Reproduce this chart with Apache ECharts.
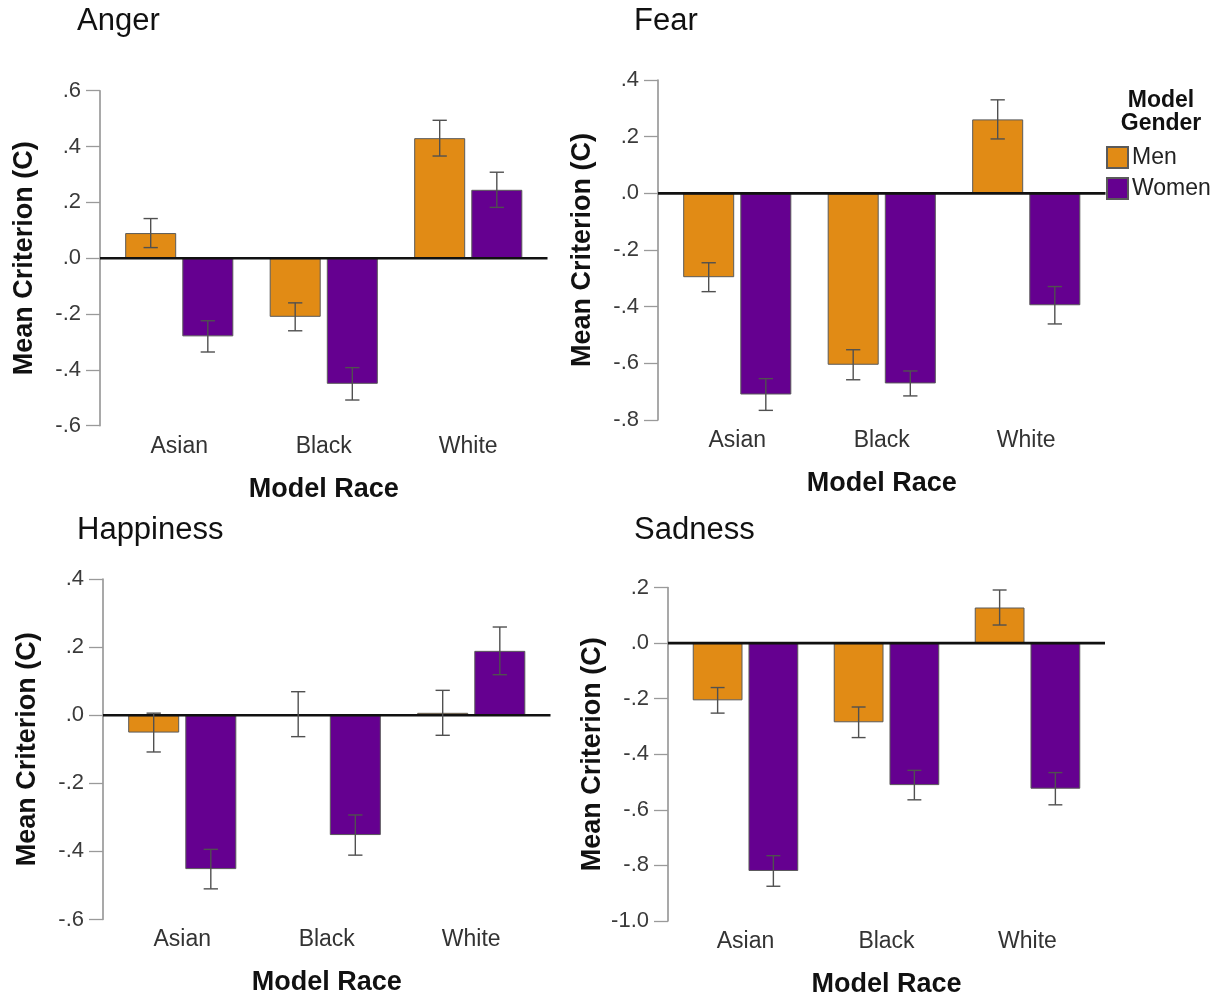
<!DOCTYPE html>
<html>
<head>
<meta charset="utf-8">
<title>Mean Criterion (C) by Model Race and Model Gender</title>
<script src="https://cdn.jsdelivr.net/npm/echarts@6/dist/echarts.min.js"></script>
<style>
  html, body { margin: 0; padding: 0; background: #ffffff; }
  #chart { width: 1223px; height: 999px; }
</style>
</head>
<body>
<div id="chart"></div>
<script>
// Categories and groups
const races = ['Asian', 'Black', 'White'];
const genders = ['Men', 'Women'];
const panelTitles = ['Anger', 'Fear', 'Happiness', 'Sadness'];

// Mean criterion (C) per race, and error-bar half-lengths
const angerMen = [0.09, -0.21, 0.43];
const angerWomen = [-0.28, -0.45, 0.245];
const angerMenErr = [0.052, 0.05, 0.064];
const angerWomenErr = [0.056, 0.058, 0.063];

const fearMen = [-0.296, -0.605, 0.261];
const fearWomen = [-0.71, -0.671, -0.395];
const fearMenErr = [0.051, 0.053, 0.069];
const fearWomenErr = [0.056, 0.044, 0.066];

const happinessMen = [-0.051, 0.003, 0.007];
const happinessWomen = [-0.452, -0.352, 0.189];
const happinessMenErr = [0.057, 0.066, 0.066];
const happinessWomenErr = [0.058, 0.059, 0.07];

const sadnessMen = [-0.206, -0.285, 0.128];
const sadnessWomen = [-0.82, -0.511, -0.524];
const sadnessMenErr = [0.046, 0.055, 0.063];
const sadnessWomenErr = [0.055, 0.053, 0.058];

// Y tick labels, bottom to top (step .2)
const angerTicks = ['-.6', '-.4', '-.2', '.0', '.2', '.4', '.6'];
const fearTicks = ['-.8', '-.6', '-.4', '-.2', '.0', '.2', '.4'];
const happinessTicks = ['-.6', '-.4', '-.2', '.0', '.2', '.4'];
const sadnessTicks = ['-1.0', '-.8', '-.6', '-.4', '-.2', '.0', '.2'];
const yMins = [-0.6, -0.8, -0.6, -1.0];
const yStep = 0.2;

// ---- styling / layout ----
const FONT = '"Liberation Sans", Arial, Helvetica, sans-serif';
const MEN_COLOR = '#E18B15';
const WOMEN_COLOR = '#650090';
const BAR_FRAC = 0.353;     // bar width as share of a category band
const GAP_FRAC = 0.12;      // gap between paired bars, share of bar width
const AXIS_INSET = 7;       // y axis line sits this far left of the first band

const panels = [
  { men: angerMen, women: angerWomen, menErr: angerMenErr, womenErr: angerWomenErr, ticks: angerTicks,
    grid: { left: 107, top: 90.7, width: 433.5, height: 335 } },
  { men: fearMen, women: fearWomen, menErr: fearMenErr, womenErr: fearWomenErr, ticks: fearTicks,
    grid: { left: 665, top: 80, width: 433.5, height: 340 } },
  { men: happinessMen, women: happinessWomen, menErr: happinessMenErr, womenErr: happinessWomenErr, ticks: happinessTicks,
    grid: { left: 110, top: 579, width: 433.5, height: 340.5 } },
  { men: sadnessMen, women: sadnessWomen, menErr: sadnessMenErr, womenErr: sadnessWomenErr, ticks: sadnessTicks,
    grid: { left: 675, top: 587.5, width: 423, height: 335.5 } }
];

const titlePos = [[77, 21], [634, 21], [77, 530], [634, 530]];

function errorRenderer(sign) {
  return function (params, api) {
    const idx = api.value(0);
    const mean = api.value(1);
    const err = api.value(2);
    const band = api.size([1, 0])[0];
    const bw = band * BAR_FRAC;
    const gap = bw * GAP_FRAC;
    const cx = api.coord([idx, 0])[0] + sign * (bw + gap) / 2;
    const yHi = api.coord([idx, mean + err])[1];
    const yLo = api.coord([idx, mean - err])[1];
    const half = bw * 0.14;
    const style = { stroke: '#505050', lineWidth: 1.4 };
    return {
      type: 'group',
      children: [
        { type: 'line', shape: { x1: cx, y1: yHi, x2: cx, y2: yLo }, style: style },
        { type: 'line', shape: { x1: cx - half, y1: yHi, x2: cx + half, y2: yHi }, style: style },
        { type: 'line', shape: { x1: cx - half, y1: yLo, x2: cx + half, y2: yLo }, style: style }
      ]
    };
  };
}

function zeroLineRenderer(params, api) {
  const cs = params.coordSys;
  const y = api.coord([0, api.value(1)])[1];
  return {
    type: 'line',
    shape: { x1: cs.x - AXIS_INSET, y1: y, x2: cs.x + cs.width + AXIS_INSET, y2: y },
    style: { stroke: '#111111', lineWidth: 2.6 }
  };
}

const grids = [], xAxes = [], yAxes = [], series = [];

panels.forEach(function (p, i) {
  grids.push(p.grid);
  xAxes.push({
    type: 'category',
    gridIndex: i,
    data: races,
    position: 'bottom',
    axisLine: { show: false },
    axisTick: { show: false },
    axisLabel: { color: '#333333', fontSize: 23, fontFamily: FONT, margin: 9 },
    name: 'Model Race',
    nameLocation: 'middle',
    nameGap: 50,
    nameTextStyle: { color: '#111111', fontSize: 27, fontWeight: 'bold', fontFamily: FONT }
  });
  const ticks = p.ticks;
  const yMin = yMins[i];
  yAxes.push({
    type: 'value',
    gridIndex: i,
    min: yMin,
    max: yMin + yStep * (ticks.length - 1),
    interval: yStep,
    offset: AXIS_INSET,
    splitLine: { show: false },
    axisLine: { show: true, lineStyle: { color: '#8c8c8c', width: 1.5 } },
    axisTick: { show: true, length: 14, lineStyle: { color: '#9a9a9a', width: 1.3 } },
    axisLabel: {
      color: '#3a3a3a', fontSize: 22, fontFamily: FONT, margin: 19,
      formatter: function (v) {
        const k = Math.round((v - yMin) / yStep);
        return ticks[k] !== undefined ? ticks[k] : '';
      }
    },
    name: 'Mean Criterion (C)',
    nameLocation: 'middle',
    nameRotate: 90,
    nameGap: 62,
    nameTextStyle: { color: '#111111', fontSize: 27, fontWeight: 'bold', fontFamily: FONT }
  });

  const barStyle = function (color) {
    return { color: color, borderColor: '#5a5a5a', borderWidth: 1 };
  };
  series.push({
    name: 'Men', type: 'bar', xAxisIndex: i, yAxisIndex: i,
    data: p.men, barWidth: (BAR_FRAC * 100) + '%', barGap: (GAP_FRAC * 100) + '%',
    itemStyle: barStyle(MEN_COLOR), z: 2
  });
  series.push({
    name: 'Women', type: 'bar', xAxisIndex: i, yAxisIndex: i,
    data: p.women, barWidth: (BAR_FRAC * 100) + '%', barGap: (GAP_FRAC * 100) + '%',
    itemStyle: barStyle(WOMEN_COLOR), z: 2
  });
  series.push({
    type: 'custom', xAxisIndex: i, yAxisIndex: i, z: 4, silent: true, clip: false,
    renderItem: zeroLineRenderer,
    data: [[0, 0]]
  });
  series.push({
    type: 'custom', xAxisIndex: i, yAxisIndex: i, z: 5, silent: true,
    renderItem: errorRenderer(-1),
    data: p.men.map(function (m, k) { return [k, m, p.menErr[k]]; })
  });
  series.push({
    type: 'custom', xAxisIndex: i, yAxisIndex: i, z: 5, silent: true,
    renderItem: errorRenderer(1),
    data: p.women.map(function (m, k) { return [k, m, p.womenErr[k]]; })
  });
});

const graphics = panelTitles.map(function (t, i) {
  return {
    type: 'text', left: titlePos[i][0], top: titlePos[i][1] - 15,
    style: { text: t, fill: '#111111', fontSize: 31, fontFamily: FONT }
  };
});
graphics.push({
  type: 'text', x: 1161, y: 89,
  style: {
    text: 'Model\nGender', fill: '#111111', fontSize: 23, fontWeight: 'bold',
    fontFamily: FONT, align: 'center', lineHeight: 23
  }
});

const chart = echarts.init(document.getElementById('chart'), null, { renderer: 'canvas' });
chart.setOption({
  animation: false,
  backgroundColor: '#ffffff',
  grid: grids,
  xAxis: xAxes,
  yAxis: yAxes,
  series: series,
  graphic: graphics,
  legend: {
    data: genders,
    orient: 'vertical',
    left: 1106,
    top: 146,
    padding: 0,
    itemWidth: 21,
    itemHeight: 21,
    itemGap: 8,
    icon: 'rect',
    textStyle: { color: '#222222', fontSize: 23, fontFamily: FONT, padding: [0, 0, 0, -1] }
  }
});
</script>
</body>
</html>
